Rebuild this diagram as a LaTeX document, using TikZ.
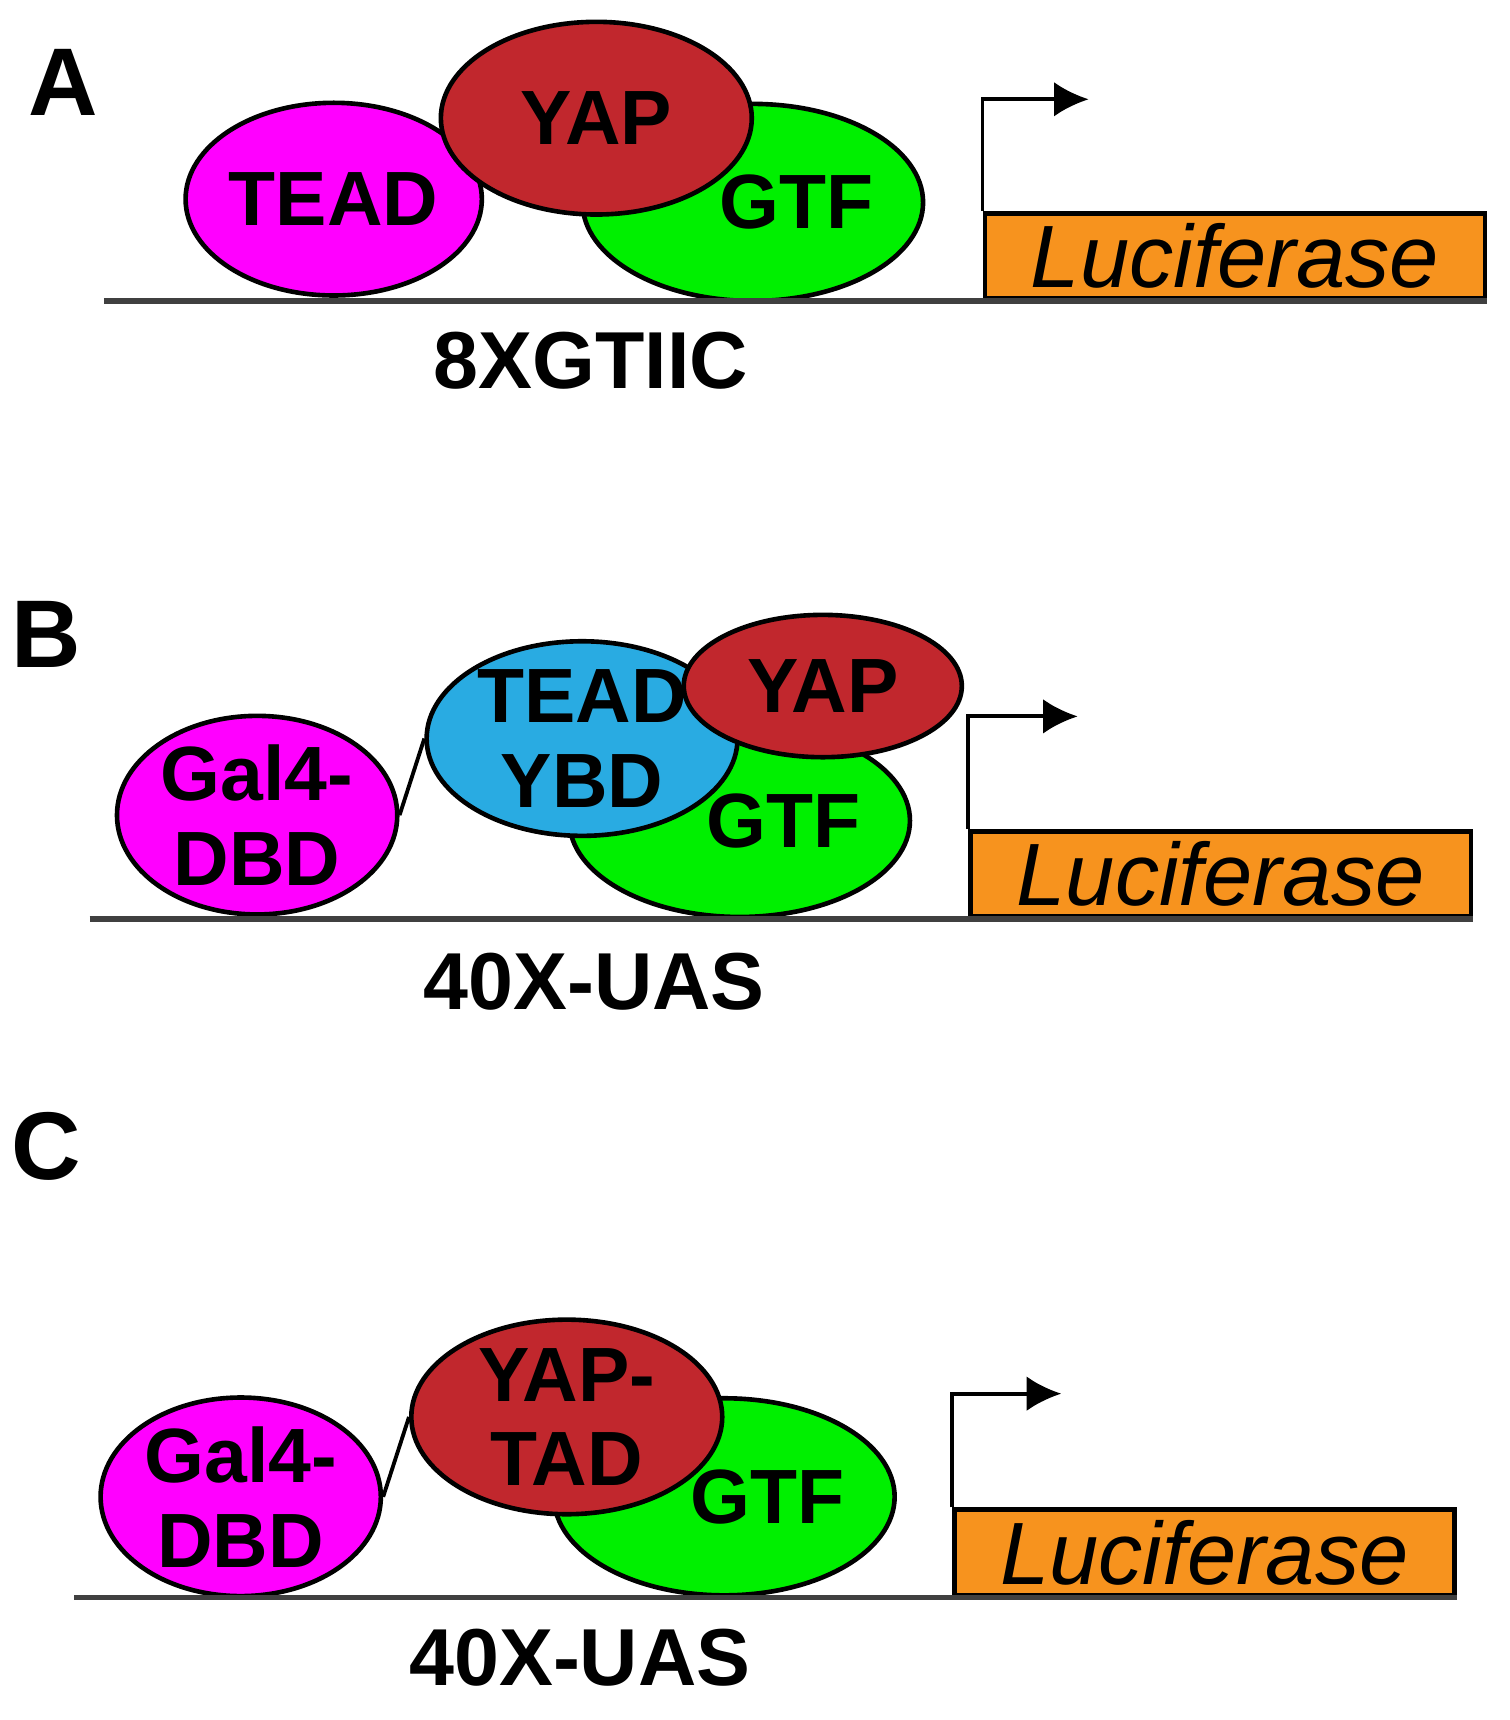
\documentclass[tikz,border=0pt]{standalone}
\usepackage{fontspec}
\setmainfont{Liberation Sans}
\usetikzlibrary{positioning,calc,shapes.geometric,arrows.meta}
\definecolor{tfmag}{HTML}{FF00FF}
\definecolor{yapred}{HTML}{C1272D}
\definecolor{gtfgreen}{HTML}{00F000}
\definecolor{ybdblue}{HTML}{29ABE2}
\definecolor{lucorange}{HTML}{F7931E}
\tikzset{>=latex,
  prot/.style={ellipse,draw,line width=1.2pt,inner sep=0pt,font=\fontsize{20}{22}\selectfont\bfseries,align=center},
  panel/.style={font=\fontsize{25}{28}\selectfont\bfseries},
  site/.style={font=\fontsize{21}{24}\selectfont\bfseries},
  gene/.style={draw,line width=1.2pt,fill=lucorange,minimum width=4.57cm,minimum height=0.78cm,inner sep=0pt,font=\fontsize{23}{25}\selectfont\itshape},
  dna/.style={line width=1.5pt,draw=black!75}
}
% #1 gene node, #2 arrow height, #3 arrow length
\def\promoter#1#2#3{
  \draw [line width=1pt,-{Latex[length=9pt,width=9pt]}] (#1.north west) -- ++(0,#2) -- ++(#3,0);
}
\begin{document}
\begin{tikzpicture}[x=0.01cm,y=-0.01cm]
\useasboundingbox (0,0) rectangle (1380,1572);
% A
\node[panel] (pA) at (58,75) {A};
\node[prot,fill=tfmag,minimum width=2.56cm,minimum height=1.76cm] (teadA) at (305,182) {TEAD};
\node[prot,fill=gtfgreen,minimum width=3.1cm,minimum height=1.8cm,text width=2.2cm,align=right] (gtfA) at (688,185) {\raisebox{-6pt}{GTF}};
\node[prot,fill=yapred,minimum width=2.84cm,minimum height=1.76cm] (yapA) at (545,108) {YAP};
\node[gene,anchor=south west] (lucA) at (898,275) {Luciferase};
\coordinate (dnaA0) at (95,275);
\draw[dna] (dnaA0) -- (lucA.south east);
\promoter{lucA}{-102}{97}
\node[site] (siteA) at (540,330) {8XGTIIC};
% B
\node[panel] (pB) at (42,580) {B};
\node[prot,fill=tfmag,minimum width=2.56cm,minimum height=1.76cm] (galB) at (235,745) {Gal4-\\DBD};
\node[prot,fill=gtfgreen,minimum width=3.1cm,minimum height=1.76cm,text width=2.2cm,align=right] (gtfB) at (676,750) {\raisebox{-6pt}{GTF}};
\node[prot,fill=ybdblue,minimum width=2.84cm,minimum height=1.76cm] (ybdB) at (532,675) {TEAD\\YBD};
\node[prot,fill=yapred,minimum width=2.54cm,minimum height=1.3cm] (yapB) at (752,627) {YAP};
\draw[line width=1pt] (galB.east) -- (ybdB.west);
\node[gene,anchor=south west] (lucB) at (885,840) {Luciferase};
\coordinate (dnaB0) at (82,840);
\draw[dna] (dnaB0) -- (lucB.south east);
\promoter{lucB}{-103}{100}
\node[site] (siteB) at (543,897) {40X-UAS};
% C
\node[panel] (pC) at (42,1048) {C};
\node[prot,fill=tfmag,minimum width=2.56cm,minimum height=1.76cm] (galC) at (220,1368) {Gal4-\\DBD};
\node[prot,fill=gtfgreen,minimum width=3.1cm,minimum height=1.8cm,text width=2.2cm,align=right] (gtfC) at (662,1368) {\raisebox{-6pt}{GTF}};
\node[prot,fill=yapred,minimum width=2.84cm,minimum height=1.76cm] (tadC) at (518,1295) {YAP-\\TAD};
\draw[line width=1pt] (galC.east) -- (tadC.west);
\node[gene,anchor=south west] (lucC) at (870,1460) {Luciferase};
\coordinate (dnaC0) at (68,1460);
\draw[dna] (dnaC0) -- (lucC.south east);
\promoter{lucC}{-104}{100}
\node[site] (siteC) at (530,1515) {40X-UAS};
\end{tikzpicture}
\end{document}
